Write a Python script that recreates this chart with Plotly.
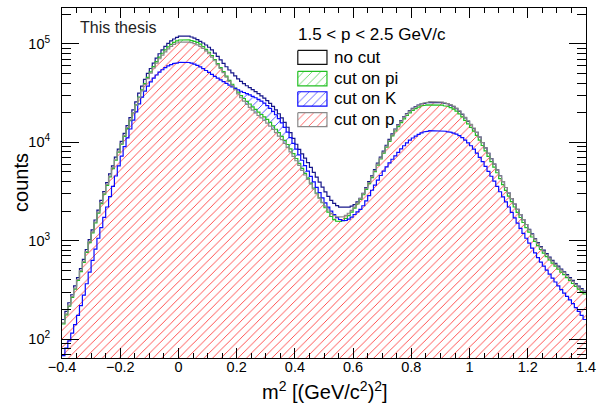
import plotly.graph_objects as go

# m^2 histograms for 1.5 < p < 2.5 GeV/c, 0.01 (GeV/c^2)^2 bins from -0.4 to 1.4
bin_lo = -0.4
bin_w = 0.01

no_cut = [158, 191, 234, 282, 347, 422, 519, 646, 813, 1023,
          1288, 1622, 2042, 2570, 3162, 3890, 4786, 5754, 7079, 8511,
          10230, 12300, 14790, 17780, 21380, 25700, 31620, 37150, 43650, 50120,
          56230, 63830, 71610, 79430, 87100, 94410, 101200, 107200, 112200, 116400,
          120000, 121600, 121600, 120200, 117500, 114300, 110400, 106200, 102100, 97500,
          92470, 86900, 80540, 74650, 68870, 63530, 58610, 54330, 50700, 47320,
          44160, 41590, 39450, 37580, 35890, 34280, 32730, 31190, 29580, 28050,
          26490, 24830, 23170, 21380, 19500, 17700, 15960, 14220, 12530, 10960,
          9550, 8470, 7640, 6890, 6210, 5560, 4950, 4420, 3940, 3510,
          3130, 2820, 2570, 2390, 2270, 2190, 2160, 2160, 2190, 2250,
          2330, 2480, 2700, 3020, 3470, 3980, 4570, 5280, 6140, 7080,
          8130, 9330, 10720, 12160, 13650, 15140, 16600, 18110, 19630, 20940,
          22080, 23070, 23880, 24490, 24890, 25290, 25590, 25700, 25700, 25590,
          25290, 24890, 24490, 23880, 23070, 21930, 20610, 19190, 17700, 16330,
          15070, 13800, 12590, 11300, 9950, 8770, 7730, 6810, 6000, 5250,
          4570, 3980, 3470, 3040, 2680, 2360, 2080, 1840, 1640, 1460,
          1300, 1170, 1050, 955, 871, 800, 738, 682, 631, 589,
          550, 514, 483, 452, 422, 394, 367, 345, 326, 308]

cut_pi = [143, 176, 216, 265, 322, 394, 484, 603, 759, 955,
          1202, 1514, 1905, 2385, 2968, 3652, 4442, 5402, 6570, 7943,
          9550, 11480, 13800, 16600, 19950, 23990, 28840, 34080, 39590, 45600,
          52000, 58880, 66070, 73280, 80350, 87100, 93330, 98860, 103500, 107200,
          109600, 110900, 110900, 109900, 108100, 105900, 103500, 99400, 93900, 88100,
          82220, 75860, 69180, 63100, 57540, 52190, 47030, 42660, 38900, 35480,
          32360, 29850, 27860, 26060, 24490, 22960, 21580, 20300, 19160, 18090,
          17080, 15940, 14710, 13570, 12520, 11480, 10470, 9500, 8560, 7670,
          6840, 6100, 5430, 4840, 4320, 3850, 3430, 3050, 2720, 2430,
          2160, 1950, 1760, 1640, 1580, 1570, 1600, 1680, 1800, 1950,
          2140, 2360, 2620, 2930, 3330, 3800, 4370, 5040, 5860, 6760,
          7760, 8910, 10230, 11610, 13030, 14450, 15850, 17280, 18730, 19950,
          21090, 22000, 22780, 23380, 23770, 24040, 24210, 24270, 24270, 24130,
          23850, 23500, 23120, 22520, 21760, 20700, 19450, 18090, 16690, 15400,
          14210, 13000, 11780, 10530, 9280, 8180, 7200, 6350, 5590, 4900,
          4270, 3720, 3240, 2840, 2500, 2200, 1940, 1720, 1530, 1360,
          1220, 1090, 983, 891, 813, 746, 688, 636, 590, 550,
          513, 480, 451, 422, 394, 367, 343, 322, 304, 287]

cut_K = [68, 81, 96, 115, 140, 174, 219, 280, 365, 479,
         631, 822, 1059, 1357, 1728, 2200, 2803, 3569, 4545, 5754,
         7244, 9016, 11090, 13650, 16790, 20420, 24550, 28840, 33110, 37270,
         41100, 44800, 48290, 51590, 54650, 57410, 59740, 61660, 63100, 64200,
         64940, 65310, 65310, 64760, 63650, 62200, 60460, 58410, 56080, 53700,
         51290, 48980, 46770, 44800, 43030, 41330, 39700, 38130, 36630, 35280,
         34080, 33020, 32090, 31170, 30290, 29340, 28350, 27320, 26240, 24980,
         23580, 22130, 20650, 19050, 17380, 15760, 14210, 12660, 11160, 9772,
         8511, 7457, 6570, 5788, 5100, 4494, 3958, 3488, 3073, 2723,
         2427, 2188, 1995, 1841, 1718, 1641, 1603, 1608, 1655, 1733,
         1846, 1961, 2078, 2265, 2541, 2868, 3254, 3673, 4121, 4597,
         5100, 5623, 6166, 6722, 7286, 7898, 8561, 9226, 9886, 10500,
         11060, 11580, 12060, 12450, 12740, 12960, 13110, 13180, 13180, 13150,
         13070, 12960, 12810, 12630, 12410, 12090, 11680, 11160, 10530, 9886,
         9226, 8511, 7762, 7038, 6348, 5689, 5070, 4519, 4027, 3569,
         3144, 2786, 2483, 2200, 1939, 1708, 1505, 1334, 1189, 1059,
         944, 841, 750, 672, 606, 550, 501, 457, 417, 380,
         347, 318, 293, 271, 250, 229, 209, 191, 174, 158]

cut_p = [146, 180, 221, 271, 329, 403, 495, 617, 776, 977,
         1230, 1549, 1950, 2440, 3037, 3737, 4545, 5525, 6722, 8128,
         9772, 11750, 14130, 16880, 20070, 23850, 28350, 33310, 38680, 44420,
         50410, 56890, 63830, 70630, 76910, 83180, 89130, 94410, 98860, 102100,
         104200, 105200, 105200, 104500, 103000, 100900, 97950, 94410, 90160, 85110,
         79430, 73450, 67450, 61660, 56230, 50990, 45970, 41570, 37690, 34190,
         30990, 28350, 26150, 24270, 22650, 21200, 19900, 18730, 17680, 16650,
         15630, 14580, 13530, 12520, 11550, 10620, 9745, 8860, 7990, 7200,
         6495, 5820, 5190, 4650, 4195, 3760, 3350, 3000, 2710, 2455,
         2240, 2050, 1895, 1795, 1743, 1728, 1748, 1804, 1900, 2030,
         2200, 2413, 2677, 3003, 3408, 3890, 4467, 5158, 5992, 6918,
         7943, 9120, 10470, 11920, 13450, 14960, 16410, 17880, 19390, 20720,
         21830, 22850, 23780, 24550, 25120, 25560, 25850, 26000, 26000, 25850,
         25560, 25200, 24760, 24130, 23310, 22200, 20840, 19390, 17880, 16500,
         15220, 13930, 12630, 11280, 9940, 8760, 7720, 6800, 5990, 5250,
         4570, 3980, 3470, 3040, 2680, 2360, 2080, 1840, 1640, 1460,
         1290, 1150, 1040, 941, 854, 781, 720, 666, 618, 575,
         537, 503, 472, 442, 412, 385, 359, 337, 318, 300]

x_ticks = [-0.4, -0.2, 0, 0.2, 0.4, 0.6, 0.8, 1, 1.2, 1.4]
y_ticks = [1e2, 1e3, 1e4, 1e5]
y_tick_text = ["10<sup>2</sup>", "10<sup>3</sup>", "10<sup>4</sup>", "10<sup>5</sup>"]
legend_header = "1.5 < p < 2.5 GeV/c"
legend_labels = ["no cut", "cut on pi", "cut on K", "cut on p"]

NAVY = "#16168a"
GREEN = "#22c022"
BLUE = "#0a0aff"
GRAY = "#8a8a8a"
RED = "#ff1010"

FONT = "Liberation Sans, Arial, Helvetica, sans-serif"

edges = [bin_lo + bin_w * i for i in range(len(no_cut) + 1)]


def step_xy(vals):
    xs, ys = [], []
    for i, v in enumerate(vals):
        xs += [edges[i], edges[i + 1]]
        ys += [v, v]
    return xs, ys


def band_xy(upper, lower):
    """Closed polygon between two step histograms (upper clipped to >= lower)."""
    top = [max(u, l) for u, l in zip(upper, lower)]
    tx, ty = step_xy(top)
    bx, by = step_xy(lower)
    xs = tx + bx[::-1] + [tx[0]]
    ys = ty + by[::-1] + [ty[0]]
    return xs, ys


def hatch(color, opacity=0.8):
    return dict(shape="/", fgcolor=color, bgcolor="rgba(0,0,0,0)",
                size=6, solidity=0.15, fgopacity=opacity)


floor = [1.0] * len(no_cut)
red_top = cut_p
blue_top = [max(k, p) for k, p in zip(cut_K, cut_p)]

fig = go.Figure()

# hatched fills: red under "cut on p", blue/green only where they stick out above
for upper, lower, col in [(cut_p, floor, RED), (cut_K, red_top, BLUE), (cut_pi, blue_top, GREEN)]:
    fx, fy = band_xy(upper, lower)
    fig.add_trace(go.Scatter(x=fx, y=fy, mode="lines", fill="toself",
                             fillcolor="rgba(0,0,0,0)", fillpattern=hatch(col),
                             line=dict(width=0), hoverinfo="skip", showlegend=False))

# histogram outlines
for vals, col in [(no_cut, NAVY), (cut_pi, GREEN), (cut_K, BLUE), (cut_p, GRAY)]:
    sx, sy = step_xy(vals)
    fig.add_trace(go.Scatter(x=sx, y=sy, mode="lines",
                             line=dict(color=col, width=1.2), showlegend=False))

# legend boxes on a pixel-coordinate overlay
L, R, T, B = 62, 592, 7, 358
box_rows = [(49.5, 63.5), (70.5, 85), (91, 105.5), (112, 126)]
box_x = (300.5, 330)
box_styles = [(None, "#111111"), (GREEN, GREEN), (BLUE, BLUE), (RED, GRAY)]
for (y0, y1), (hcol, bcol) in zip(box_rows, box_styles):
    bx = [box_x[0], box_x[1], box_x[1], box_x[0], box_x[0]]
    by = [y0, y0, y1, y1, y0]
    kw = dict(fill="toself", fillcolor="rgba(0,0,0,0)")
    if hcol is not None:
        kw["fillpattern"] = hatch(hcol, 0.7)
    fig.add_trace(go.Scatter(x=bx, y=by, mode="lines", xaxis="x2", yaxis="y2",
                             line=dict(color=bcol, width=1.2), hoverinfo="skip",
                             showlegend=False, **kw))


def px(xp):
    return (xp - L) / (R - L)


def py(yp):
    return (B - yp) / (B - T)


annotations = [
    dict(text="This thesis", x=px(78), y=py(27), xanchor="left", yanchor="middle",
         font=dict(size=16, color="#222222")),
    dict(text=legend_header, x=px(299), y=py(33.5), xanchor="left", yanchor="middle",
         font=dict(size=17, color="black")),
    dict(text="m<sup>2</sup> [(GeV/c<sup>2</sup>)<sup>2</sup>]", x=px(328), y=py(391),
         xanchor="center", yanchor="middle", font=dict(size=20, color="black")),
    dict(text="counts", x=px(20), y=py(182), xanchor="center", yanchor="middle",
         textangle=-90, font=dict(size=20, color="black")),
]
for (y0, y1), lab in zip(box_rows, legend_labels):
    annotations.append(dict(text=lab, x=px(335), y=py((y0 + y1) / 2), xanchor="left",
                            yanchor="middle", font=dict(size=17, color="black")))
for a in annotations:
    a.update(xref="paper", yref="paper", showarrow=False)

minor_y = [m * 10 ** e for e in range(1, 6) for m in range(2, 10)]

fig.update_layout(
    width=603, height=410,
    margin=dict(l=L, r=603 - R, t=T, b=410 - B),
    paper_bgcolor="white", plot_bgcolor="white",
    font=dict(family=FONT, color="black"),
    showlegend=False,
    annotations=annotations,
    xaxis=dict(range=[-0.4, 1.4], tickvals=x_ticks, ticks="inside", ticklen=10,
               tickcolor="black", showline=True, linecolor="black", linewidth=1,
               mirror="ticks", showgrid=False, zeroline=False,
               tickfont=dict(size=14.5), ticklabelstandoff=-4,
               minor=dict(dtick=0.05, tick0=-0.4, ticks="inside", ticklen=5,
                          tickcolor="black", showgrid=False)),
    yaxis=dict(type="log", range=[1.8075, 5.365], tickvals=y_ticks, ticktext=y_tick_text,
               ticks="inside", ticklen=17, tickcolor="black", showline=True,
               linecolor="black", linewidth=1, mirror="ticks", showgrid=False,
               zeroline=False, tickfont=dict(size=14.5), ticklabelstandoff=8,
               minor=dict(tickmode="array", tickvals=minor_y, ticks="inside",
                          ticklen=9, tickcolor="black", showgrid=False)),
    xaxis2=dict(overlaying="x", range=[L, R], visible=False, fixedrange=True),
    yaxis2=dict(overlaying="y", range=[B, T], visible=False, fixedrange=True),
)

fig.write_html("out.html")
